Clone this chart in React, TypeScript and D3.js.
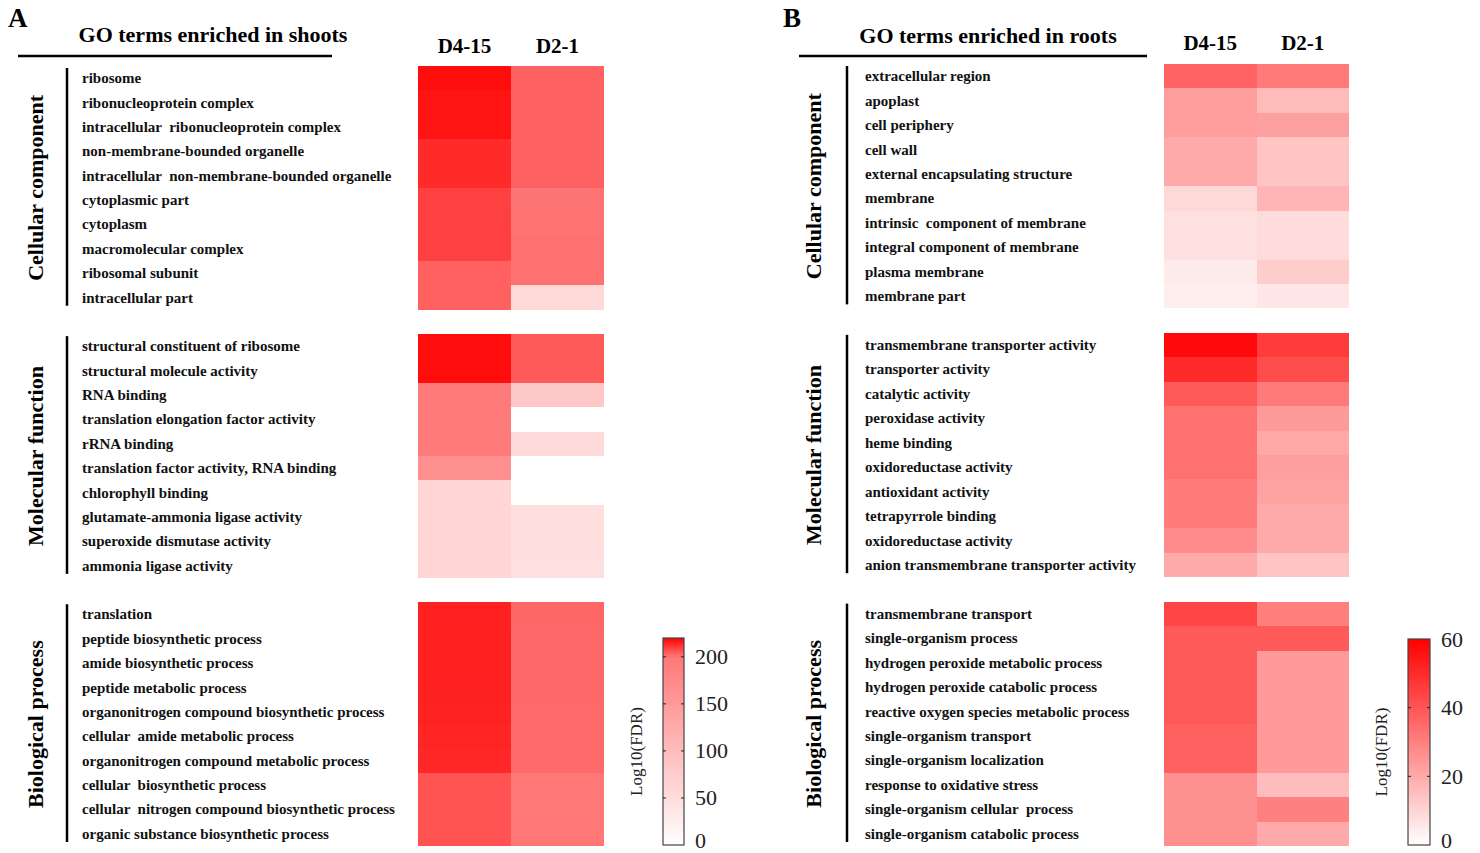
import React from "react";
import * as d3 from "d3";

const SERIF = "'Liberation Serif', 'Times New Roman', Times, serif";

const columns = ["D4-15", "D2-1"];
const sectionNames = ["Cellular component", "Molecular function", "Biological process"];

// ---- shoots (panel A), values are -log10(FDR)
const shootCellular = [
  "ribosome",
  "ribonucleoprotein complex",
  "intracellular  ribonucleoprotein complex",
  "non-membrane-bounded organelle",
  "intracellular  non-membrane-bounded organelle",
  "cytoplasmic part",
  "cytoplasm",
  "macromolecular complex",
  "ribosomal subunit",
  "intracellular part",
];
const shootMolecular = [
  "structural constituent of ribosome",
  "structural molecule activity",
  "RNA binding",
  "translation elongation factor activity",
  "rRNA binding",
  "translation factor activity, RNA binding",
  "chlorophyll binding",
  "glutamate-ammonia ligase activity",
  "superoxide dismutase activity",
  "ammonia ligase activity",
];
const shootBiological = [
  "translation",
  "peptide biosynthetic process",
  "amide biosynthetic process",
  "peptide metabolic process",
  "organonitrogen compound biosynthetic process",
  "cellular  amide metabolic process",
  "organonitrogen compound metabolic process",
  "cellular  biosynthetic process",
  "cellular  nitrogen compound biosynthetic process",
  "organic substance biosynthetic process",
];
const shootCellularD415 = [217.8, 216.7, 216.7, 213, 213, 209.3, 209.3, 209.3, 204, 204];
const shootCellularD21 = [203.7, 203.7, 203.7, 203.7, 203.7, 200.5, 200.8, 201.3, 201.3, 57.8];
const shootMolecularD415 = [217.8, 217.8, 197, 197, 197, 164, 62, 62, 62, 62];
const shootMolecularD21 = [205, 205, 81, 0, 55, 0, 0, 49, 49, 46];
const shootBiologicalD415 = [214.5, 214.7, 214.7, 214.5, 214.3, 213.8, 213.5, 206.3, 206.3, 206.3];
const shootBiologicalD21 = [202.9, 202.7, 202.7, 202.6, 202.5, 202.3, 202.2, 200.2, 200, 200.1];

// ---- roots (panel B)
const rootCellular = [
  "extracellular region",
  "apoplast",
  "cell periphery",
  "cell wall",
  "external encapsulating structure",
  "membrane",
  "intrinsic  component of membrane",
  "integral component of membrane",
  "plasma membrane",
  "membrane part",
];
const rootMolecular = [
  "transmembrane transporter activity",
  "transporter activity",
  "catalytic activity",
  "peroxidase activity",
  "heme binding",
  "oxidoreductase activity",
  "antioxidant activity",
  "tetrapyrrole binding",
  "oxidoreductase activity",
  "anion transmembrane transporter activity",
];
const rootBiological = [
  "transmembrane transport",
  "single-organism process",
  "hydrogen peroxide metabolic process",
  "hydrogen peroxide catabolic process",
  "reactive oxygen species metabolic process",
  "single-organism transport",
  "single-organism localization",
  "response to oxidative stress",
  "single-organism cellular  process",
  "single-organism catabolic process",
];
const rootCellularD415 = [36.7, 23.3, 23.3, 20, 20, 9.2, 7.3, 7.3, 4.9, 4];
const rootCellularD21 = [31.3, 16.2, 22.4, 13.9, 13.9, 17.4, 8.2, 8.2, 12, 5.9];
const rootMolecularD415 = [57.6, 50.1, 38.8, 33.6, 33.6, 33.6, 31.3, 31.3, 27.1, 20];
const rootMolecularD21 = [45.9, 42.1, 31.3, 23.8, 20.5, 22.8, 21.9, 20, 20, 13.9];
const rootBiologicalD415 = [43.5, 38.8, 38.8, 38.8, 38.8, 37.4, 37.4, 26.1, 26.1, 26.1];
const rootBiologicalD21 = [30.4, 38.8, 23.8, 23.8, 23.8, 23.8, 23.8, 15.8, 29.9, 20];

const shootTicks = [0, 50, 100, 150, 200];
const rootTicks = [0, 20, 40, 60];

const layoutA = {
  letterX: 8, titleX: 213, titleY: 42, lineX1: 18, lineX2: 332, lineY: 56, headerY: 53,
  heatLeft: 418, heatRight: 604, heatTop: 66, heatBottom: 846,
  barX: 67, labelX: 82, sectionX: 35,
  cbLeft: 663, cbWidth: 21, cbTop: 638, cbBottom: 845, logX: 636,
};
const layoutB = {
  letterX: 783, titleX: 988, titleY: 43, lineX1: 799, lineX2: 1147, lineY: 56, headerY: 50,
  heatLeft: 1164, heatRight: 1349, heatTop: 64, heatBottom: 846,
  barX: 847, labelX: 865, sectionX: 813,
  cbLeft: 1408, cbWidth: 22, cbTop: 639, cbBottom: 845, logX: 1381,
};

type Layout = typeof layoutA;

function Panel({ id, letter, title, terms, d415, d21, colorDomain, colorRange, ticks, cbMax, L }: {
  id: string; letter: string; title: string; terms: string[][]; d415: number[][]; d21: number[][];
  colorDomain: number[]; colorRange: string[]; ticks: number[]; cbMax: number; L: Layout;
}) {
  const y = d3.scaleBand<number>().domain(d3.range(32)).range([L.heatTop, L.heatBottom]);
  const x = d3.scaleBand<string>().domain(columns).range([L.heatLeft, L.heatRight]);
  const color = d3.scaleLinear<string>().domain(colorDomain).range(colorRange).clamp(true);
  const cy = d3.scaleLinear().domain([0, cbMax]).range([L.cbBottom, L.cbTop]);
  const slot = (s: number, i: number) => s * 11 + i;
  const stops = d3.range(0, 1.0001, 0.02);

  return (
    <g>
      <defs>
        <linearGradient id={id} x1="0" y1="1" x2="0" y2="0">
          {stops.map((t) => (
            <stop key={t} offset={t} stopColor={color(t * cbMax)} />
          ))}
        </linearGradient>
      </defs>
      <text x={L.letterX} y={27} fontFamily={SERIF} fontWeight="bold" fontSize={27}>{letter}</text>
      <text x={L.titleX} y={L.titleY} textAnchor="middle" fontFamily={SERIF} fontWeight="bold" fontSize={22}>{title}</text>
      <line x1={L.lineX1} x2={L.lineX2} y1={L.lineY} y2={L.lineY} stroke="#000" strokeWidth={2.5} />
      {columns.map((c) => (
        <text key={c} x={x(c)! + x.bandwidth() / 2} y={L.headerY} textAnchor="middle"
          fontFamily={SERIF} fontWeight="bold" fontSize={21}>{c}</text>
      ))}
      {terms.map((sec, s) => {
        const top = y(slot(s, 0))!;
        const bottom = y(slot(s, sec.length - 1))! + y.bandwidth();
        return (
          <g key={s}>
            <text transform={`translate(${L.sectionX},${(top + bottom) / 2}) rotate(-90)`}
              textAnchor="middle" dominantBaseline="central" fontFamily={SERIF} fontWeight="bold" fontSize={22}>
              {sectionNames[s]}
            </text>
            <line x1={L.barX} x2={L.barX} y1={top + 2} y2={bottom - 4} stroke="#000" strokeWidth={2.5} />
            {sec.map((t, i) => (
              <g key={i}>
                <text x={L.labelX} y={y(slot(s, i))! + y.bandwidth() / 2} dominantBaseline="central"
                  fontFamily={SERIF} fontWeight="bold" fontSize={15} fill="#111"
                  style={{ whiteSpace: "pre" }}>{t}</text>
                <rect x={x("D4-15")} y={y(slot(s, i))} width={x.bandwidth()} height={y.bandwidth()}
                  fill={color(d415[s][i])} shapeRendering="crispEdges" />
                <rect x={x("D2-1")} y={y(slot(s, i))} width={x.bandwidth()} height={y.bandwidth()}
                  fill={color(d21[s][i])} shapeRendering="crispEdges" />
              </g>
            ))}
          </g>
        );
      })}
      {/* colour bar */}
      <rect x={L.cbLeft} y={L.cbTop} width={L.cbWidth} height={L.cbBottom - L.cbTop}
        fill={`url(#${id})`} stroke="#444" strokeWidth={1.2} />
      {ticks.map((t) => (
        <g key={t}>
          {t > 0 && t < cbMax && (
            <>
              <line x1={L.cbLeft} x2={L.cbLeft + 3} y1={cy(t)} y2={cy(t)} stroke="#222" strokeWidth={1} />
              <line x1={L.cbLeft + L.cbWidth - 3} x2={L.cbLeft + L.cbWidth} y1={cy(t)} y2={cy(t)} stroke="#222" strokeWidth={1} />
            </>
          )}
          <text x={L.cbLeft + L.cbWidth + 11} y={Math.min(cy(t), 840)} dominantBaseline="central"
            fontFamily={SERIF} fontSize={22} fill="#222">{t}</text>
        </g>
      ))}
      <text transform={`translate(${L.logX},${(L.cbTop + L.cbBottom) / 2 + 10}) rotate(-90)`}
        textAnchor="middle" dominantBaseline="central" fontFamily={SERIF} fontSize={17} fill="#222">
        Log10(FDR)
      </text>
    </g>
  );
}

export default function App() {
  return (
    <div style={{ position: "absolute", left: 0, top: 0 }}>
      <svg width={1480} height={853} style={{ display: "block", background: "#fff" }}>
        <Panel id="gradA" letter="A" title="GO terms enriched in shoots"
          terms={[shootCellular, shootMolecular, shootBiological]}
          d415={[shootCellularD415, shootMolecularD415, shootBiologicalD415]}
          d21={[shootCellularD21, shootMolecularD21, shootBiologicalD21]}
          colorDomain={[0, 200, 220]} colorRange={["#ffffff", "#ff7878", "#ff0000"]}
          ticks={shootTicks} cbMax={220} L={layoutA} />
        <Panel id="gradB" letter="B" title="GO terms enriched in roots"
          terms={[rootCellular, rootMolecular, rootBiological]}
          d415={[rootCellularD415, rootMolecularD415, rootBiologicalD415]}
          d21={[rootCellularD21, rootMolecularD21, rootBiologicalD21]}
          colorDomain={[0, 60]} colorRange={["#ffffff", "#ff0000"]}
          ticks={rootTicks} cbMax={60} L={layoutB} />
      </svg>
    </div>
  );
}
